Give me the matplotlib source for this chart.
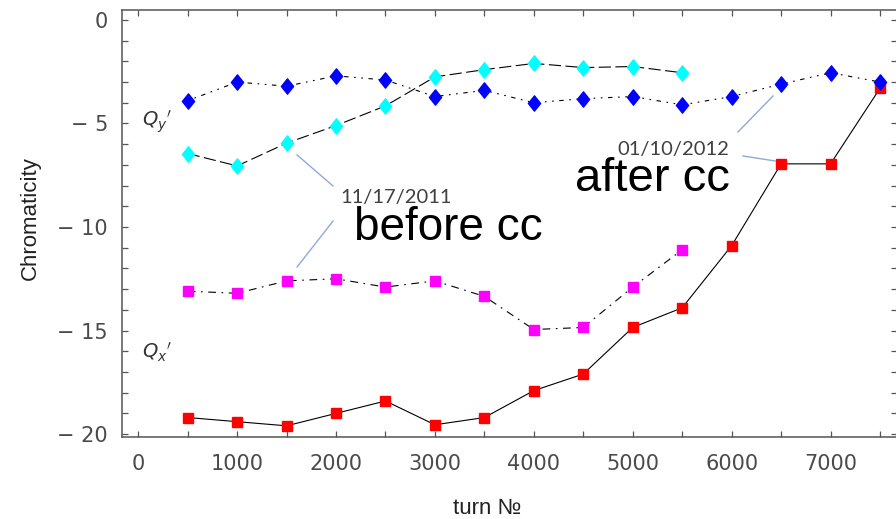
import numpy as np
import matplotlib.pyplot as plt
from matplotlib.path import Path
from matplotlib.ticker import MultipleLocator, FixedLocator

# turn numbers
turns_long = [500, 1000, 1500, 2000, 2500, 3000, 3500, 4000, 4500, 5000, 5500, 6000, 6500, 7000, 7500]
turns_short = [500, 1000, 1500, 2000, 2500, 3000, 3500, 4000, 4500, 5000, 5500]

# Qy' after cc (blue), Qy' before cc (cyan)
qy_after = [-3.9, -3.0, -3.2, -2.7, -2.9, -3.7, -3.4, -4.0, -3.8, -3.7, -4.1, -3.7, -3.1, -2.55, -3.0]
qy_before = [-6.45, -7.05, -5.95, -5.1, -4.15, -2.75, -2.4, -2.1, -2.3, -2.25, -2.55]
# Qx' before cc (magenta), Qx' after cc (red)
qx_before = [-13.1, -13.2, -12.6, -12.5, -12.9, -12.6, -13.35, -14.95, -14.85, -12.9, -11.1]
qx_after = [-19.2, -19.4, -19.6, -19.0, -18.4, -19.55, -19.2, -17.9, -17.1, -14.85, -13.9,
            -10.9, -6.95, -6.95, -3.3]

xtick_major = [0, 1000, 2000, 3000, 4000, 5000, 6000, 7000]
xtick_labels = ['0', '1000', '2000', '3000', '4000', '5000', '6000', '7000']
ytick_major = [-20, -15, -10, -5, 0]
ytick_labels = ['\u2212 20', '\u2212 15', '\u2212 10', '\u2212 5', '0']

diamond = Path([(0, 1), (0.8, 0), (0, -1), (-0.8, 0), (0, 1)],
               [Path.MOVETO, Path.LINETO, Path.LINETO, Path.LINETO, Path.CLOSEPOLY])

fig = plt.figure(figsize=(8.96, 5.19), dpi=100, facecolor='white')
ax = fig.add_axes([122/896, 1 - 437/519, (897 - 122)/896, (437 - 10)/519])

lw = 0.8
ax.plot(turns_long, qx_after, color='black', lw=lw, linestyle='-',
        marker='s', ms=7.5, mfc='#ff0000', mec='#ff0000', zorder=3)
ax.plot(turns_short, qx_before, color='black', lw=lw, linestyle=(0, (7, 5, 1.5, 5)),
        marker='s', ms=7.5, mfc='#ff00ff', mec='#ff00ff', zorder=3)
ax.plot(turns_short, qy_before, color='black', lw=lw, linestyle=(0, (11, 4)),
        marker=diamond, ms=11, mfc='#00ffff', mec='#00ffff', zorder=3)
ax.plot(turns_long, qy_after, color='black', lw=lw, linestyle=(0, (1.5, 5, 1.5, 5, 4, 5)),
        marker=diamond, ms=11, mfc='#0000ff', mec='#0000ff', zorder=4)

ax.set_xlim(-164, 7672)
ax.set_ylim(-20.14, 0.48)

ax.xaxis.set_major_locator(FixedLocator(xtick_major))
ax.set_xticklabels(xtick_labels)
ax.xaxis.set_minor_locator(MultipleLocator(500))
ax.yaxis.set_major_locator(FixedLocator(ytick_major))
ax.set_yticklabels(ytick_labels)
ax.yaxis.set_minor_locator(MultipleLocator(1))

spine_col = '#555555'
for s in ax.spines.values():
    s.set_color(spine_col)
    s.set_linewidth(1.1)
ax.tick_params(which='both', direction='in', length=4, width=0.9, color=spine_col,
               top=True, right=True)
ax.tick_params(axis='x', which='both', pad=12, labelsize=15, labelcolor='#4a4a4a')
ax.tick_params(axis='y', which='both', pad=10, labelsize=15, labelcolor='#4a4a4a')
ax.tick_params(axis='y', which='both', labelright=False)

# Q labels
ax.text(190, -4.93, r"$Q_y{}'$", fontsize=14, ha='center', va='center', color='#333333')
ax.text(190, -16.05, r"$Q_x{}'$", fontsize=14, ha='center', va='center', color='#333333')

# callout lines
callout_col = '#8eaad6'
callouts = [((1606, -6.52), (1970, -8.02)),
            ((1970, -9.71), (1606, -11.93)),
            ((6419, -3.67), (6064, -5.41)),
            ((6115, -6.57), (6438, -6.81))]
for (x0, y0), (x1, y1) in callouts:
    ax.plot([x0, x1], [y0, y1], color=callout_col, lw=1.0, zorder=2)

ax.text(2040, -8.82, '11/17/2011', fontsize=14.5, family='Lato', color='#404040',
        ha='left', va='baseline')
ax.text(2180, -10.62, 'before cc', fontsize=33, family='Liberation Sans', color='black',
        ha='left', va='baseline')
ax.text(4841, -6.52, '01/10/2012', fontsize=14.5, family='Lato', color='#404040',
        ha='left', va='baseline')
ax.text(4420, -8.28, 'after cc', fontsize=34, family='Liberation Sans', color='black',
        ha='left', va='baseline')

fig.text(30/896, 1 - 218/519, 'Chromaticity', rotation=90, fontsize=16,
         family='Liberation Sans', ha='center', va='center', color='#222222')
fig.text(487/896, 1 - 508/519, 'turn \u2116', fontsize=16,
         family='Liberation Sans', ha='center', va='center', color='#222222')

fig.savefig('out.png', dpi=100, facecolor='white')
